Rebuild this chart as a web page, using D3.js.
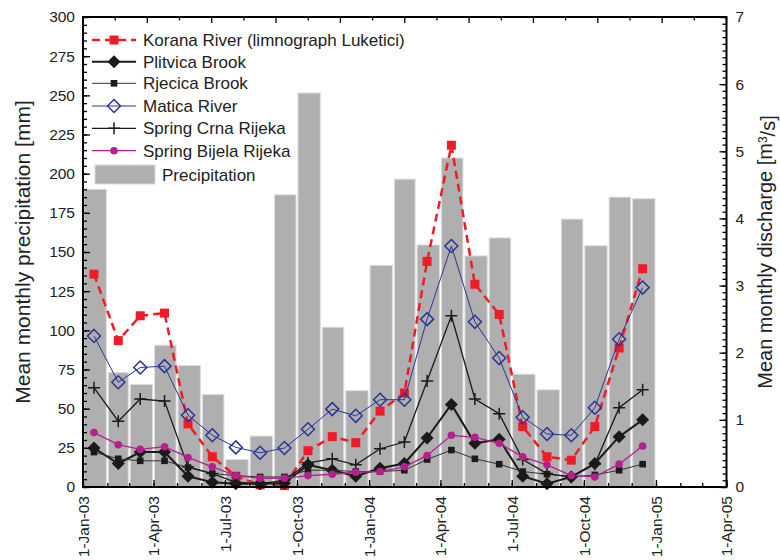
<!DOCTYPE html>
<html>
<head>
<meta charset="utf-8">
<script src="https://cdn.jsdelivr.net/npm/d3@7"></script>
<style>
  html, body { margin: 0; padding: 0; background: #fff; }
  svg { display: block; font-family: "Liberation Sans", Arial, sans-serif; }
</style>
</head>
<body>
<svg id="chart" width="780" height="560"></svg>
<script>
// Monthly categories (Jan 2003 – Dec 2004)
const months = ["2003-01","2003-02","2003-03","2003-04","2003-05","2003-06",
                "2003-07","2003-08","2003-09","2003-10","2003-11","2003-12",
                "2004-01","2004-02","2004-03","2004-04","2004-05","2004-06",
                "2004-07","2004-08","2004-09","2004-10","2004-11","2004-12"];

// Mean monthly precipitation [mm]
const precipitation = [190, 73, 65.5, 90.5, 77.5, 59, 17.5, 32.5, 186.5, 251.5, 102, 61.5,
                       141.5, 196.5, 154.5, 210, 147.5, 159, 72, 62, 171, 154, 185, 184];

// Mean monthly discharge [m3/s]
const korana  = [3.17, 2.18, 2.55, 2.59, 0.94, 0.45, 0.16, 0.03, 0.02, 0.54, 0.75, 0.66,
                 1.13, 1.40, 3.36, 5.09, 3.02, 2.57, 0.90, 0.45, 0.40, 0.90, 2.07, 3.25];
const plitvica = [0.58, 0.35, 0.52, 0.52, 0.16, 0.07, 0.05, 0.05, 0.06, 0.33, 0.25, 0.16,
                  0.28, 0.35, 0.73, 1.23, 0.65, 0.71, 0.16, 0.05, 0.15, 0.35, 0.75, 1.00];
const rjecica = [0.52, 0.42, 0.39, 0.39, 0.29, 0.20, 0.17, 0.15, 0.15, 0.25, 0.25, 0.23,
                 0.23, 0.25, 0.41, 0.55, 0.42, 0.34, 0.23, 0.19, 0.15, 0.18, 0.25, 0.34];
const matica  = [2.25, 1.56, 1.78, 1.80, 1.07, 0.77, 0.59, 0.51, 0.58, 0.86, 1.16, 1.06,
                 1.30, 1.30, 2.50, 3.59, 2.46, 1.92, 1.04, 0.79, 0.77, 1.18, 2.20, 2.97];
const crna    = [1.48, 0.98, 1.31, 1.28, 0.30, 0.20, 0.07, 0.05, 0.10, 0.36, 0.42, 0.33,
                 0.57, 0.67, 1.58, 2.55, 1.31, 1.09, 0.41, 0.20, 0.15, 0.34, 1.18, 1.45];
const bijela  = [0.81, 0.63, 0.56, 0.60, 0.44, 0.30, 0.17, 0.13, 0.13, 0.17, 0.19, 0.22,
                 0.23, 0.30, 0.47, 0.77, 0.74, 0.65, 0.45, 0.33, 0.17, 0.15, 0.34, 0.61];

// Date axis tick labels and axis ranges
const dateTicks = ["1-Jan-03","1-Apr-03","1-Jul-03","1-Oct-03","1-Jan-04",
                   "1-Apr-04","1-Jul-04","1-Oct-04","1-Jan-05","1-Apr-05"];
const precipTicks = [0, 25, 50, 75, 100, 125, 150, 175, 200, 225, 250, 275, 300];
const dischargeTicks = [0, 1, 2, 3, 4, 5, 6, 7];

const svg = d3.select("#chart");
const L = 83, R = 726.5, T = 17, B = 487;

const parseTick = d3.utcParse("%d-%b-%y");
const fmtTick = d3.utcFormat("%-d-%b-%y");
const parseMonth = d3.utcParse("%Y-%m");

const x = d3.scaleUtc()
  .domain([parseTick(dateTicks[0]), parseTick(dateTicks[dateTicks.length - 1])])
  .range([L, R]);
const yL = d3.scaleLinear().domain([0, 300]).range([B, T]);
const yR = d3.scaleLinear().domain([0, 7]).range([B, T]);

const monthStart = months.map(m => parseMonth(m));
const monthEnd = monthStart.map(d => d3.utcMonth.offset(d, 1));
const monthMid = monthStart.map(d => d3.utcDay.offset(d, 14));

// Precipitation bars
svg.append("g").selectAll("rect")
  .data(precipitation)
  .join("rect")
  .attr("x", (d, i) => x(monthStart[i]) + 1)
  .attr("width", (d, i) => x(monthEnd[i]) - x(monthStart[i]) - 2)
  .attr("y", d => yL(d))
  .attr("height", d => yL(0) - yL(d))
  .attr("fill", "#afafaf")
  .attr("stroke", "#dcdcdc")
  .attr("stroke-width", 1);

// Marker shapes
function drawMarker(g, type, cx, cy) {
  if (type === "bigsquare") {
    g.append("rect").attr("x", cx - 4.5).attr("y", cy - 4.5).attr("width", 9).attr("height", 9)
      .attr("fill", "#ee1c25");
  } else if (type === "diamond") {
    const s = 6.5;
    g.append("path").attr("d", `M${cx},${cy - s}L${cx + s},${cy}L${cx},${cy + s}L${cx - s},${cy}Z`)
      .attr("fill", "#1a1a1a");
  } else if (type === "smallsquare") {
    g.append("rect").attr("x", cx - 3.3).attr("y", cy - 3.3).attr("width", 6.6).attr("height", 6.6)
      .attr("fill", "#1a1a1a");
  } else if (type === "opendiamond") {
    const s = 6.5;
    g.append("path").attr("d", `M${cx},${cy - s}L${cx + s},${cy}L${cx},${cy + s}L${cx - s},${cy}Z`)
      .attr("fill", "none").attr("stroke", "#2a3593").attr("stroke-width", 1.5);
  } else if (type === "plus") {
    const s = 6;
    g.append("path").attr("d", `M${cx - s},${cy}H${cx + s}M${cx},${cy - s}V${cy + s}`)
      .attr("stroke", "#1a1a1a").attr("stroke-width", 1.5);
  } else if (type === "circle") {
    g.append("circle").attr("cx", cx).attr("cy", cy).attr("r", 3.8).attr("fill", "#b5208f");
  }
}

const series = [
  { name: "Korana River (limnograph Luketici)", values: korana, color: "#ee1c25", width: 2.5, dash: "8,5", marker: "bigsquare" },
  { name: "Plitvica Brook", values: plitvica, color: "#1a1a1a", width: 2, dash: null, marker: "diamond" },
  { name: "Rjecica Brook", values: rjecica, color: "#333333", width: 1, dash: null, marker: "smallsquare" },
  { name: "Matica River", values: matica, color: "#2a3593", width: 1, dash: null, marker: "opendiamond" },
  { name: "Spring Crna Rijeka", values: crna, color: "#1a1a1a", width: 1.3, dash: null, marker: "plus" },
  { name: "Spring Bijela Rijeka", values: bijela, color: "#b5208f", width: 1.3, dash: null, marker: "circle" }
];

const line = d3.line().x(d => x(d.date)).y(d => yR(d.v));
const plot = svg.append("g");
series.forEach(s => {
  const pts = s.values.map((v, i) => ({ date: monthMid[i], v }));
  const g = plot.append("g");
  g.append("path").datum(pts).attr("d", line)
    .attr("fill", "none").attr("stroke", s.color).attr("stroke-width", s.width)
    .attr("stroke-dasharray", s.dash);
  pts.forEach(p => drawMarker(g, s.marker, x(p.date), yR(p.v)));
});

// Axes
const tickFont = 15.5;
const major = 7, minor = 4;

// bottom: quarters labelled, months as minor ticks
const quarterDates = dateTicks.map(parseTick);
const monthTicks = d3.utcMonth.range(x.domain()[0], d3.utcDay.offset(x.domain()[1], 1));
const gB = svg.append("g").attr("transform", `translate(0,${B})`);
gB.call(d3.axisBottom(x).tickValues(monthTicks).tickSize(-minor).tickFormat(""))
  .call(g => g.select(".domain").remove());
const gBm = svg.append("g").attr("transform", `translate(0,${B})`)
  .call(d3.axisBottom(x).tickValues(quarterDates).tickSize(-major).tickFormat(fmtTick));
gBm.select(".domain").remove();
gBm.selectAll("text")
  .attr("transform", "rotate(-90)")
  .attr("text-anchor", "end")
  .attr("x", -9).attr("y", 0).attr("dy", "0.35em")
  .style("font-size", tickFont + "px").attr("fill", "#222");

// top: ten equal divisions
const topTicks = d3.range(0, 21).map(i => L + (R - L) * i / 20);
const gT = svg.append("g");
gT.selectAll("line").data(topTicks).join("line")
  .attr("x1", d => d).attr("x2", d => d)
  .attr("y1", T).attr("y2", (d, i) => T + (i % 2 === 0 ? 6 : 3.5))
  .attr("stroke", "#000").attr("stroke-width", 1.3);

// left precipitation axis
const gL = svg.append("g").attr("transform", `translate(${L},0)`);
gL.call(d3.axisLeft(yL).tickValues(d3.range(0, 301, 5)).tickSize(-minor).tickFormat(""))
  .call(g => g.select(".domain").remove());
const gLm = svg.append("g").attr("transform", `translate(${L},0)`)
  .call(d3.axisLeft(yL).tickValues(precipTicks).tickSize(-major).tickPadding(8).tickFormat(d3.format("d")));
gLm.select(".domain").remove();
gLm.selectAll("text").style("font-size", tickFont + "px").attr("fill", "#222");

// right discharge axis
const gR = svg.append("g").attr("transform", `translate(${R},0)`);
gR.call(d3.axisRight(yR).tickValues(d3.range(0, 70.5, 1).map(v => v / 10)).tickSize(-minor).tickFormat(""))
  .call(g => g.select(".domain").remove());
const gRm = svg.append("g").attr("transform", `translate(${R},0)`)
  .call(d3.axisRight(yR).tickValues(dischargeTicks).tickSize(-major).tickPadding(9).tickFormat(d3.format("d")));
gRm.select(".domain").remove();
gRm.selectAll("text").style("font-size", tickFont + "px").attr("fill", "#222");

svg.selectAll(".tick line").attr("stroke", "#000").attr("stroke-width", 1.3);

// frame
svg.append("rect").attr("x", L).attr("y", T).attr("width", R - L).attr("height", B - T)
  .attr("fill", "none").attr("stroke", "#000").attr("stroke-width", 2);

// axis titles
svg.append("text")
  .attr("transform", `translate(30,${(T + B) / 2}) rotate(-90)`)
  .attr("text-anchor", "middle").style("font-size", "21px").attr("fill", "#222")
  .text("Mean monthly precipitation [mm]");
const rt = svg.append("text")
  .attr("transform", `translate(772,${(T + B) / 2}) rotate(-90)`)
  .attr("text-anchor", "middle").style("font-size", "20px").attr("fill", "#222");
rt.append("tspan").text("Mean monthly discharge [m");
rt.append("tspan").attr("dy", "-0.4em").style("font-size", "12px").text("3");
rt.append("tspan").attr("dy", "0.4em").text("/s]");

// legend
const legend = svg.append("g");
const legY = [40, 61.7, 83.3, 106, 128.3, 150.7];
series.forEach((s, i) => {
  const y = legY[i];
  legend.append("line").attr("x1", 92).attr("x2", 136).attr("y1", y).attr("y2", y)
    .attr("stroke", s.color).attr("stroke-width", s.width).attr("stroke-dasharray", s.dash);
  drawMarker(legend, s.marker, 114, y);
  legend.append("text").attr("x", 143).attr("y", y).attr("dy", "0.36em")
    .style("font-size", "17px").attr("fill", "#222").text(s.name);
});
legend.append("rect").attr("x", 95).attr("y", 165).attr("width", 60).attr("height", 19)
  .attr("fill", "#afafaf").attr("stroke", "#dcdcdc");
legend.append("text").attr("x", 162).attr("y", 175).attr("dy", "0.36em")
  .style("font-size", "17px").attr("fill", "#222").text("Precipitation");
</script>
</body>
</html>
